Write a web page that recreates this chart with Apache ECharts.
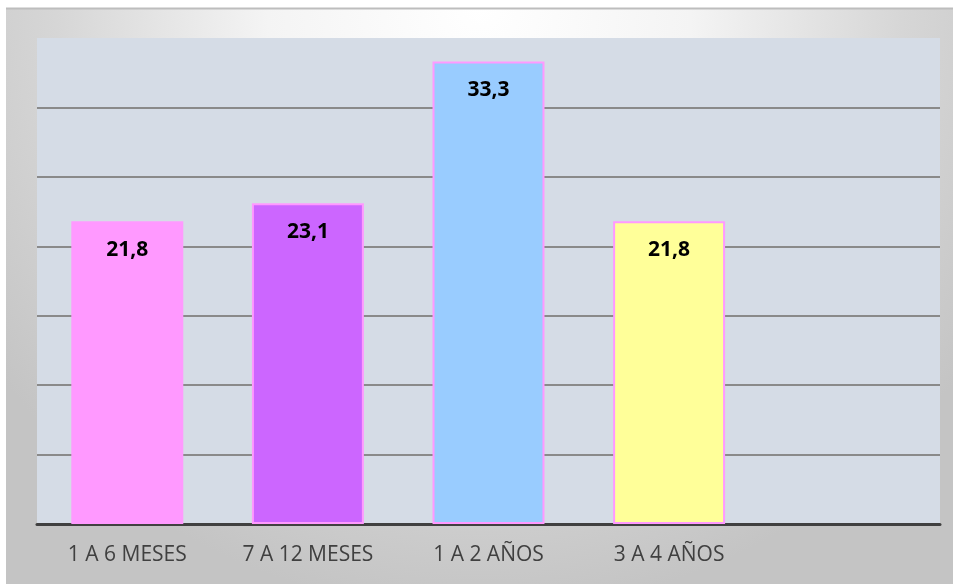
<!DOCTYPE html>
<html>
<head>
<meta charset="utf-8">
<script src="https://cdn.jsdelivr.net/npm/echarts@6/dist/echarts.min.js"></script>
<style>html,body{margin:0;padding:0;background:#fff;}#c{width:959px;height:584px;}</style>
</head>
<body>
<div id="c"></div>
<script>
var categories = ['1 A 6 MESES', '7 A 12 MESES', '1 A 2 AÑOS', '3 A 4 AÑOS', ''];
var values = [21.8, 23.1, 33.3, 21.8, null];
var labels = ['21,8', '23,1', '33,3', '21,8', ''];
var yTicks = {min: 0, max: 35, interval: 5};

var barColors = ['#ff99ff', '#cc66ff', '#99ccff', '#ffff99', '#ffffff'];

var chart = echarts.init(document.getElementById('c'), null, {renderer: 'canvas'});
chart.setOption({
  animation: false,
  graphic: [
    {type: 'rect', z: -10, silent: true, shape: {x: 6, y: 8, width: 947, height: 576},
     style: {fill: {type: 'radial', x: 0.5, y: 0, r: 1.05, colorStops: [
       {offset: 0, color: '#ffffff'}, {offset: 0.35, color: '#f4f4f4'},
       {offset: 0.7, color: '#d6d6d6'}, {offset: 1, color: '#c4c4c4'}]}}},
    {type: 'line', z: -9, silent: true, shape: {x1: 6, y1: 8.5, x2: 953, y2: 8.5},
     style: {stroke: '#bdbdbd', lineWidth: 2}}
  ],
  grid: {left: 37, right: 19, top: 38, bottom: 60, show: true, backgroundColor: '#d5dce6', borderWidth: 0},
  xAxis: {
    type: 'category', data: categories,
    axisLine: {lineStyle: {color: '#404040', width: 3}},
    axisTick: {show: false},
    axisLabel: {color: '#404040', fontSize: 21, fontFamily: 'Open Sans', margin: 21, interval: 0}
  },
  yAxis: {
    type: 'value', min: yTicks.min, max: yTicks.max, interval: yTicks.interval,
    axisLine: {show: false}, axisTick: {show: false}, axisLabel: {show: false},
    splitLine: {lineStyle: {color: ['#8a8a8a','#8a8a8a','#8a8a8a','#8a8a8a','#8a8a8a','#8a8a8a','#8a8a8a','rgba(0,0,0,0)'], width: 2}}
  },
  series: [{
    type: 'bar', barWidth: '62%',
    data: values.map(function (v, i) {
      return {value: v, itemStyle: {color: barColors[i], borderColor: '#ff99ff', borderWidth: 2}};
    }),
    label: {
      show: true, position: 'insideTop', distance: 18,
      fontSize: 21, fontWeight: 'bold', color: '#000', fontFamily: 'Open Sans',
      formatter: function (p) { return labels[p.dataIndex]; }
    }
  }]
});
</script>
</body>
</html>
